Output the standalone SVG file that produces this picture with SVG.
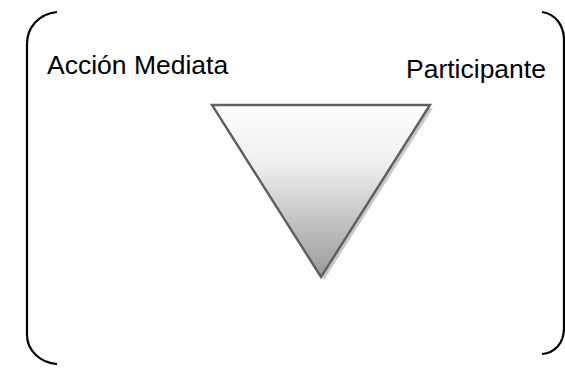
<svg xmlns="http://www.w3.org/2000/svg" width="565" height="369" viewBox="0 0 565 369">
<style>
.br{fill:none;stroke:#000;stroke-width:2.2}
.t{font-family:"Liberation Sans",Arial,sans-serif;font-size:26.5px;fill:#000}
</style>
<defs>
<linearGradient id="g" x1="0" y1="0" x2="0" y2="1">
<stop offset="0" stop-color="#ffffff"/>
<stop offset="0.35" stop-color="#eeeeee"/>
<stop offset="1" stop-color="#999999"/>
</linearGradient>
</defs>
<rect width="565" height="369" fill="#fff"/>
<g id="bracket-left"><path class="br" d="M57,12 C38,14 27,28 27,44 L27,335 C27,350 40,363 57,364"/></g>
<g id="bracket-right"><path class="br" d="M542,12 C556,14 564,26 564,40 L564,328 C564,343 555,353 542,354"/></g>
<g id="triangle">
<polygon points="215,108 433,108 324,280" fill="#c8c8c8"/>
<polygon points="212,105 430,105 321,277" fill="url(#g)" stroke="#5f5f5f" stroke-width="2.4" stroke-linejoin="miter"/>
</g>
<g id="label-accion"><text class="t" x="47" y="74">Acción Mediata</text></g>
<g id="label-participante"><text class="t" x="406" y="78">Participante</text></g>
</svg>
